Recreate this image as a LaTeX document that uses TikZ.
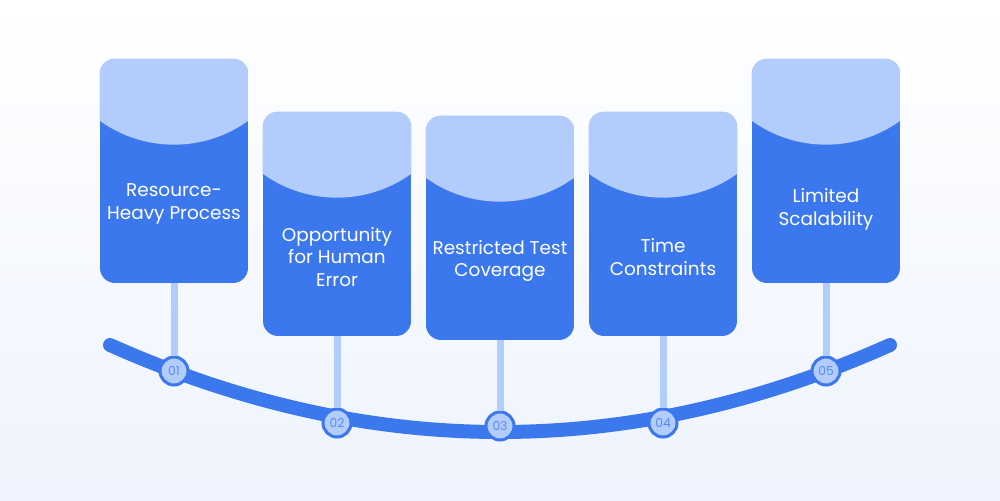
\documentclass[tikz,border=0pt]{standalone}
\usepackage{fontspec}
\setmainfont{Poppins}
\usepackage{xcolor}
\usetikzlibrary{positioning,calc}
\definecolor{cardblue}{HTML}{3C78ED}
\definecolor{capblue}{HTML}{B2CCFB}
\definecolor{bgblue}{HTML}{EEF3FD}

\begin{document}
\begin{tikzpicture}[x=0.02cm, y=-0.02cm,
    card/.style={rectangle, rounded corners=0.3cm, fill=cardblue, minimum width=2.96cm, minimum height=4.48cm, inner sep=0pt},
    cardtext/.style={text=white, align=center, font=\fontsize{10.5}{13}\selectfont},
    stem/.style={draw=capblue, line width=0.14cm},
    dot/.style={circle, draw=cardblue, fill=capblue, line width=0.06cm, minimum size=0.56cm, inner sep=0pt, text=cardblue!85, font=\fontsize{7}{8}\selectfont},
    track/.style={draw=cardblue, line width=0.28cm, line cap=round}]
    % background
    \shade[top color=white, bottom color=bgblue] (0,0) rectangle (1000,500);
    % curved track
    \coordinate (L) at (110,345);
    \coordinate (R) at (890,345);
    \draw[track] (L) .. controls (370,461) and (630,461) .. (R);
    % cards
    \foreach \i/\x/\y/\dy/\txt in {1/174/171/33/{Resource-\\Heavy Process}, 2/337/224/33/{Opportunity\\for Human\\Error}, 3/500/228/33/{Restricted Test\\Coverage}, 4/663/224/33/{Time\\Constraints}, 5/826/171/38/{Limited\\Scalability}} {
        \node[card] (B\i) at (\x,\y) {};
        \begin{scope}
            \clip[rounded corners=0.3cm] (B\i.north west) rectangle (B\i.south east);
            \fill[capblue] (B\i.north west) -- ($(B\i.north west)+(0,62)$) .. controls ($(B\i.north west)+(44,94)$) and ($(B\i.north east)+(-44,94)$) .. ($(B\i.north east)+(0,62)$) -- (B\i.north east) -- cycle;
        \end{scope}
        \node[cardtext] (T\i) at ($(B\i.center)+(0,\dy)$) {\txt};
    }
    % markers on the track
    \foreach \i/\x/\y in {1/174/371, 2/337/423, 3/500/426, 4/663/423, 5/826/371} {
        \node[dot] (C\i) at (\x,\y) {0\i};
        \draw[stem] (B\i.south) -- (C\i);
    }
\end{tikzpicture}
\end{document}
